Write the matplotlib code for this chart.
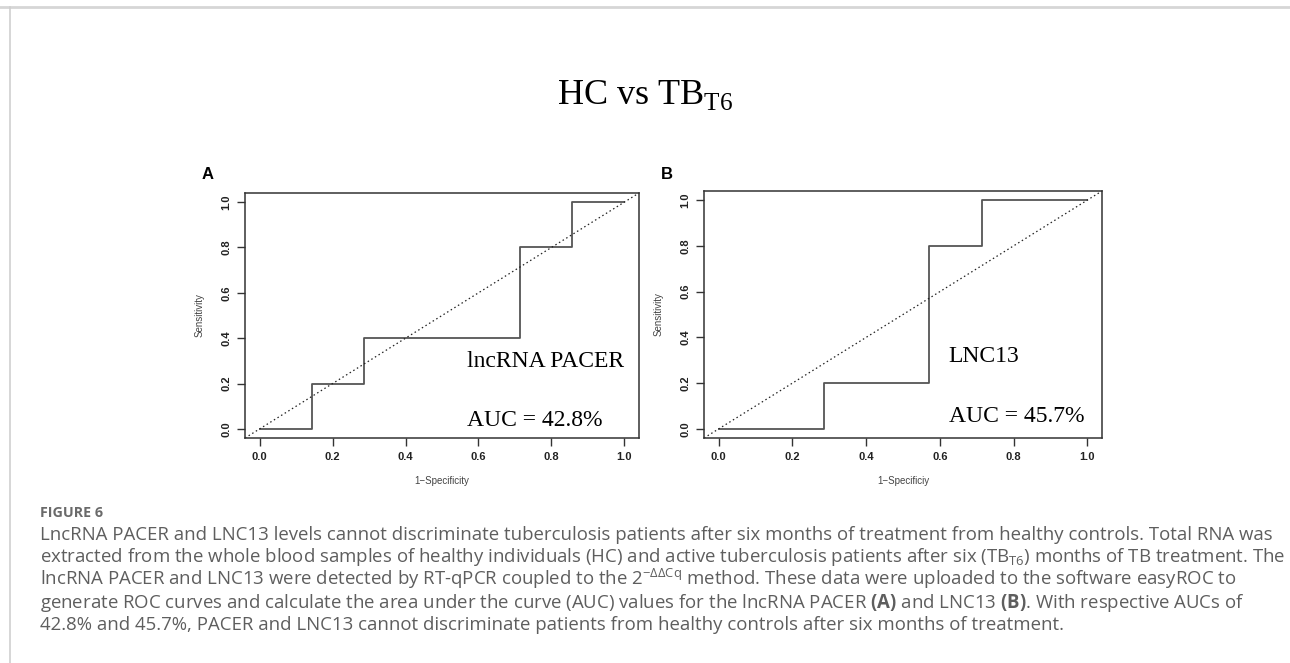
import matplotlib
matplotlib.use("Agg")
import matplotlib.pyplot as plt
from matplotlib.lines import Line2D

plt.rcParams["mathtext.fontset"] = "custom"
plt.rcParams["mathtext.rm"] = "Open Sans"
plt.rcParams["mathtext.it"] = "Open Sans"
plt.rcParams["mathtext.bf"] = "Open Sans:bold"

W, H = 1290, 663

# ROC data (1-specificity, sensitivity)
fpr_a = [0.0, 0.143, 0.286, 0.714, 0.857, 1.0]
tpr_a = [0.0, 0.2, 0.4, 0.8, 1.0, 1.0]
fpr_b = [0.0, 0.286, 0.571, 0.714, 1.0]
tpr_b = [0.0, 0.2, 0.8, 1.0, 1.0]

ticks = [0.0, 0.2, 0.4, 0.6, 0.8, 1.0]
tick_labels = ["0.0", "0.2", "0.4", "0.6", "0.8", "1.0"]

markers = ["lncRNA PACER", "LNC13"]
auc_labels = ["AUC = 42.8%", "AUC = 45.7%"]
x_labels = ["1\u2212Specificity", "1\u2212Specificiy"]

caption_lines = [
    "LncRNA PACER and LNC13 levels cannot discriminate tuberculosis patients after six months of treatment from healthy controls. Total RNA was",
    "extracted from the whole blood samples of healthy individuals (HC) and active tuberculosis patients after six (TB$_{\\mathrm{T6}}$) months of TB treatment. The",
    "lncRNA PACER and LNC13 were detected by RT-qPCR coupled to the 2$^{\\mathrm{\u2212\u0394\u0394Cq}}$ method. These data were uploaded to the software easyROC to",
    "generate ROC curves and calculate the area under the curve (AUC) values for the lncRNA PACER $\\mathbf{(A)}$ and LNC13 $\\mathbf{(B)}$. With respective AUCs of",
    "42.8% and 45.7%, PACER and LNC13 cannot discriminate patients from healthy controls after six months of treatment.",
]


def px(x, y):
    return x / W, 1 - y / H


fig = plt.figure(figsize=(W / 100, H / 100), dpi=100)

# page frame
fig.add_artist(Line2D([0, 1], [1 - 7 / H, 1 - 7 / H], color="#d6d6d6", lw=2))
fig.add_artist(Line2D([9.5 / W, 9.5 / W], [0, 1 - 7 / H], color="#cfcfcf", lw=1.2))

# title
fig.text(*px(645, 104), "HC vs TB$_{\\mathregular{T6}}$", ha="center", va="baseline",
         fontsize=26, family="Liberation Serif")

panels = [
    dict(rect=[245 / W, 1 - 438 / H, 394 / W, 245 / H], fpr=fpr_a, tpr=tpr_a,
         letter=(208, 175), lx=0.569, ly=0.273, ay=0.012),
    dict(rect=[704 / W, 1 - 438 / H, 398 / W, 247 / H], fpr=fpr_b, tpr=tpr_b,
         letter=(667, 175), lx=0.624, ly=0.292, ay=0.029),
]

for i, p in enumerate(panels):
    ax = fig.add_axes(p["rect"])
    ax.set_xlim(-0.04, 1.04)
    ax.set_ylim(-0.04, 1.04)
    ax.plot(p["fpr"], p["tpr"], drawstyle="steps-post", color="#555555", lw=1.3)
    ax.axline((0, 0), slope=1, color="#222222", lw=0.9, ls=(0, (1.2, 2.2)))
    ax.set_xticks(ticks)
    ax.set_xticklabels(tick_labels)
    ax.set_yticks(ticks)
    ax.set_yticklabels(tick_labels, rotation=90, va="center")
    ax.tick_params(direction="out", length=6, width=1, color="#333333",
                   labelsize=8, labelcolor="#222222", pad=4)
    for lab in ax.get_xticklabels() + ax.get_yticklabels():
        lab.set_family("Liberation Sans")
        lab.set_weight("bold")
    for s in ax.spines.values():
        s.set_color("#333333")
        s.set_linewidth(1.1)
    ax.set_xlabel(x_labels[i], fontsize=7, color="#444444", family="Liberation Sans",
                  labelpad=10)
    ax.set_ylabel("Sensitivity", fontsize=7, color="#444444", family="Liberation Sans",
                  labelpad=12)
    ax.text(p["lx"], p["ly"], markers[i], fontsize=17, family="Liberation Serif",
            va="baseline", ha="left")
    ax.text(p["lx"], p["ay"], auc_labels[i], fontsize=17, family="Liberation Serif",
            va="baseline", ha="left")
    fig.text(*px(*p["letter"]), "AB"[i], fontsize=12, weight="bold",
             family="Liberation Sans", ha="center", va="center")

# caption
fig.text(*px(40, 517), "FIGURE 6", fontsize=10.3, color="#6a6a6a", weight="bold",
         family="Open Sans", ha="left", va="baseline")
for j, line in enumerate(caption_lines):
    fig.text(*px(40, 540 + 22.5 * j), line, fontsize=13.4, color="#5e5e5e",
             family="Open Sans", ha="left", va="baseline")

fig.savefig("out.png", dpi=100)
